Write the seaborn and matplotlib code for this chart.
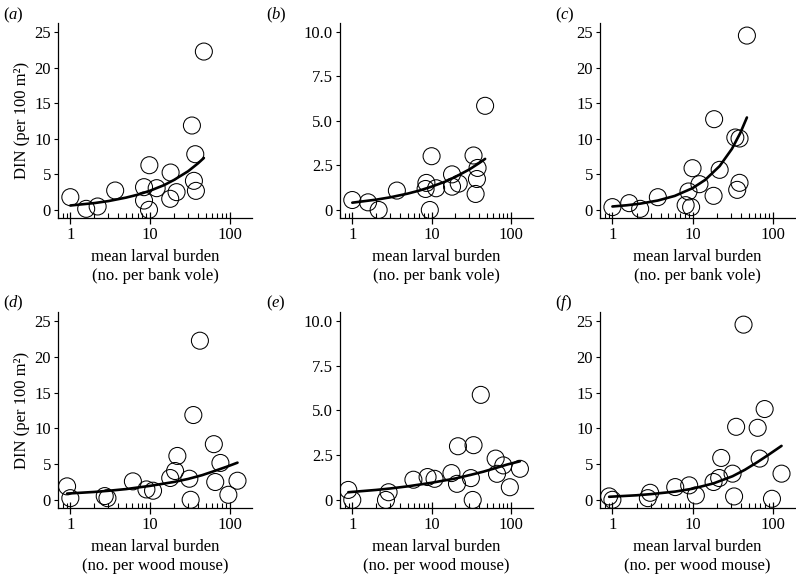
import numpy as np
import pandas as pd
import matplotlib
matplotlib.use("Agg")
import matplotlib.pyplot as plt
from matplotlib.ticker import LogLocator, FixedLocator, NullFormatter, FixedFormatter
import seaborn as sns

sns.set_theme(style="ticks")
plt.rcParams["font.family"] = ["Liberation Serif", "DejaVu Serif"]
plt.rcParams["mathtext.fontset"] = "custom"
plt.rcParams["mathtext.rm"] = "Liberation Serif"
plt.rcParams["mathtext.it"] = "Liberation Serif:italic"

# ---- data ----
a_x = [1.0, 1.58, 2.2, 3.65, 8.4, 8.4, 9.8, 9.7, 12.1, 18.1, 17.9, 21.5, 33.5, 36.9, 35.5, 37.6, 47.3]
a_y = [1.78, 0.14, 0.47, 2.72, 3.19, 1.31, 6.28, 0.0, 3.05, 5.25, 1.55, 2.49, 11.87, 7.83, 4.08, 2.67, 22.28]
a_cx = [1.0, 2.0, 3.0, 5.0, 7.0, 10.0, 15.0, 20.0, 30.0, 40.0, 47.3]
a_cy = [0.61, 0.95, 1.23, 1.72, 2.13, 2.69, 3.48, 4.21, 5.43, 6.55, 7.3]

b_x = [1.0, 1.58, 2.15, 3.65, 8.6, 8.4, 10.0, 9.5, 11.4, 18.1, 18.1, 22.0, 33.8, 38.0, 37.3, 35.9, 47.3]
b_y = [0.56, 0.43, 0.0, 1.09, 1.52, 1.18, 3.02, 0.0, 1.22, 2.0, 1.31, 1.48, 3.06, 2.36, 1.74, 0.9, 5.85]
b_cx = [1.0, 2.0, 3.0, 5.0, 7.0, 10.0, 15.0, 20.0, 30.0, 40.0, 47.3]
b_cy = [0.41, 0.58, 0.71, 0.92, 1.09, 1.31, 1.6, 1.86, 2.28, 2.64, 2.87]

c_x = [1.0, 1.62, 2.22, 3.69, 8.9, 8.2, 9.6, 10.0, 12.2, 18.6, 18.3, 21.8, 34.2, 38.6, 38.6, 36.1, 47.7]
c_y = [0.38, 0.94, 0.14, 1.78, 2.58, 0.66, 0.38, 5.86, 3.61, 12.76, 1.97, 5.63, 10.18, 10.04, 3.8, 2.81, 24.53]
c_cx = [1.0, 1.5, 2.22, 3.69, 6.0, 10.0, 14.4, 21.8, 31.0, 39.5, 47.7]
c_cy = [0.47, 0.64, 0.87, 1.31, 1.96, 3.05, 4.22, 6.16, 8.58, 10.83, 13.0]

d_x = [0.91, 1.0, 2.7, 2.92, 6.09, 9.0, 10.9, 17.9, 20.6, 22.0, 31.1, 32.3, 34.9, 42.2, 63.1, 65.7, 76.3, 96.0, 125.0]
d_y = [1.88, 0.23, 0.52, 0.23, 2.58, 1.45, 1.27, 3.05, 4.03, 6.14, 2.95, 0.0, 11.87, 22.28, 7.79, 2.49, 5.16, 0.7, 2.67]
d_cx = [0.91, 2.0, 3.0, 5.0, 10.0, 20.0, 30.0, 45.0, 63.0, 90.0, 125.0]
d_cy = [0.87, 1.1, 1.26, 1.5, 1.95, 2.5, 2.92, 3.45, 4.0, 4.6, 5.2]

e_x = [0.89, 1.0, 2.66, 2.87, 5.9, 8.9, 10.9, 17.8, 20.9, 21.5, 31.3, 33.8, 33.0, 41.7, 64.2, 66.8, 80.2, 97.0, 130.0]
e_y = [0.56, 0.0, 0.0, 0.43, 1.13, 1.28, 1.18, 1.5, 0.9, 3.0, 1.22, 3.06, 0.0, 5.87, 2.31, 1.46, 1.93, 0.71, 1.74]
e_cx = [0.89, 2.0, 3.0, 5.0, 10.0, 20.0, 31.0, 45.0, 64.0, 90.0, 130.0]
e_cy = [0.43, 0.56, 0.64, 0.76, 0.96, 1.2, 1.4, 1.58, 1.78, 1.98, 2.16]

f_x = [0.91, 1.0, 2.77, 2.96, 6.08, 9.08, 11.0, 18.3, 21.5, 22.8, 31.6, 33.0, 35.0, 43.3, 65.0, 68.8, 79.4, 98.0, 129.0]
f_y = [0.47, 0.0, 0.23, 0.98, 1.78, 2.02, 0.61, 2.49, 3.05, 5.86, 3.66, 0.47, 10.22, 24.53, 10.08, 5.77, 12.71, 0.14, 3.66]
f_cx = [0.91, 2.0, 3.0, 6.08, 10.0, 18.3, 31.6, 45.0, 65.0, 90.0, 129.0]
f_cy = [0.42, 0.63, 0.79, 1.15, 1.55, 2.3, 3.3, 4.2, 5.3, 6.35, 7.55]

panel_labels = ["a", "b", "c", "d", "e", "f"]
xtick_vals = [1, 10, 100]
xtick_labels = ["1", "10", "100"]
ytick_big = [0, 5, 10, 15, 20, 25]
ytick_big_labels = ["0", "5", "10", "15", "20", "25"]
ytick_small = [0, 2.5, 5.0, 7.5, 10.0]
ytick_small_labels = ["0", "2.5", "5.0", "7.5", "10.0"]
xlabel_vole = "mean larval burden\n(no. per bank vole)"
xlabel_mouse = "mean larval burden\n(no. per wood mouse)"
ylabel_text = "DIN (per 100 m²)"

panels = [
    (a_x, a_y, a_cx, a_cy, "big", xlabel_vole, True),
    (b_x, b_y, b_cx, b_cy, "small", xlabel_vole, False),
    (c_x, c_y, c_cx, c_cy, "big", xlabel_vole, False),
    (d_x, d_y, d_cx, d_cy, "big", xlabel_mouse, True),
    (e_x, e_y, e_cx, e_cy, "small", xlabel_mouse, False),
    (f_x, f_y, f_cx, f_cy, "big", xlabel_mouse, False),
]

W, H = 796, 575
fig = plt.figure(figsize=(W / 100, H / 100), dpi=100)

lefts = [58, 340, 600]
widths = [194, 193, 195]
tops = [23, 312]
bottoms = [218, 508]

for i, (px, py, cx, cy, kind, xl, show_ylab) in enumerate(panels):
    r, c = divmod(i, 3)
    l = lefts[c] / W
    b = 1 - bottoms[r] / H
    w = widths[c] / W
    h = (bottoms[r] - tops[r]) / H
    ax = fig.add_axes([l, b, w, h])
    ax.set_xscale("log")
    df = pd.DataFrame({"x": px, "y": py})
    sns.scatterplot(data=df, x="x", y="y", ax=ax, s=150, marker="o",
                    facecolors="none", edgecolor="black", linewidth=0.75, zorder=3)
    dfc = pd.DataFrame({"x": cx, "y": cy})
    sns.lineplot(data=dfc, x="x", y="y", ax=ax, color="black", linewidth=1.9,
                 sort=True, estimator=None, zorder=4)
    ax.set_xlim(0.70, 190)
    if kind == "big":
        ax.set_ylim(-1.15, 26.3)
        ax.yaxis.set_major_locator(FixedLocator(ytick_big))
        ax.yaxis.set_major_formatter(FixedFormatter(ytick_big_labels))
    else:
        ax.set_ylim(-0.45, 10.5)
        ax.yaxis.set_major_locator(FixedLocator(ytick_small))
        ax.yaxis.set_major_formatter(FixedFormatter(ytick_small_labels))
    ax.xaxis.set_major_locator(FixedLocator(xtick_vals))
    ax.xaxis.set_major_formatter(FixedFormatter(xtick_labels))
    ax.xaxis.set_minor_locator(LogLocator(base=10, subs=np.arange(2, 10)))
    ax.xaxis.set_minor_formatter(NullFormatter())
    ax.tick_params(axis="x", which="major", direction="inout", length=9, width=0.9,
                   labelsize=12, pad=2, color="black", labelcolor="black")
    ax.tick_params(axis="x", which="minor", direction="in", length=3.5, width=0.8,
                   color="black")
    ax.tick_params(axis="y", which="major", direction="out", length=3, width=0.8,
                   labelsize=12, pad=2, color="black", labelcolor="black")
    for s in ["top", "right"]:
        ax.spines[s].set_visible(False)
    for s in ["left", "bottom"]:
        ax.spines[s].set_linewidth(0.9)
        ax.spines[s].set_color("black")
    ax.set_xlabel(xl, fontsize=12, labelpad=4, linespacing=1.25, color="black")
    if show_ylab:
        ax.set_ylabel(ylabel_text, fontsize=12, labelpad=3, color="black")
    else:
        ax.set_ylabel("")
    ax.set_facecolor("none")

# panel letters
label_pos = [(3, 15), (266, 15), (555, 15), (3, 303), (266, 303), (555, 303)]
for lab, (lx, ly) in zip(panel_labels, label_pos):
    fig.text(lx / W, 1 - ly / H, r"($\mathit{%s}$)" % lab, fontsize=12,
             ha="left", va="center", color="black")

fig.savefig("out.png", dpi=100)
